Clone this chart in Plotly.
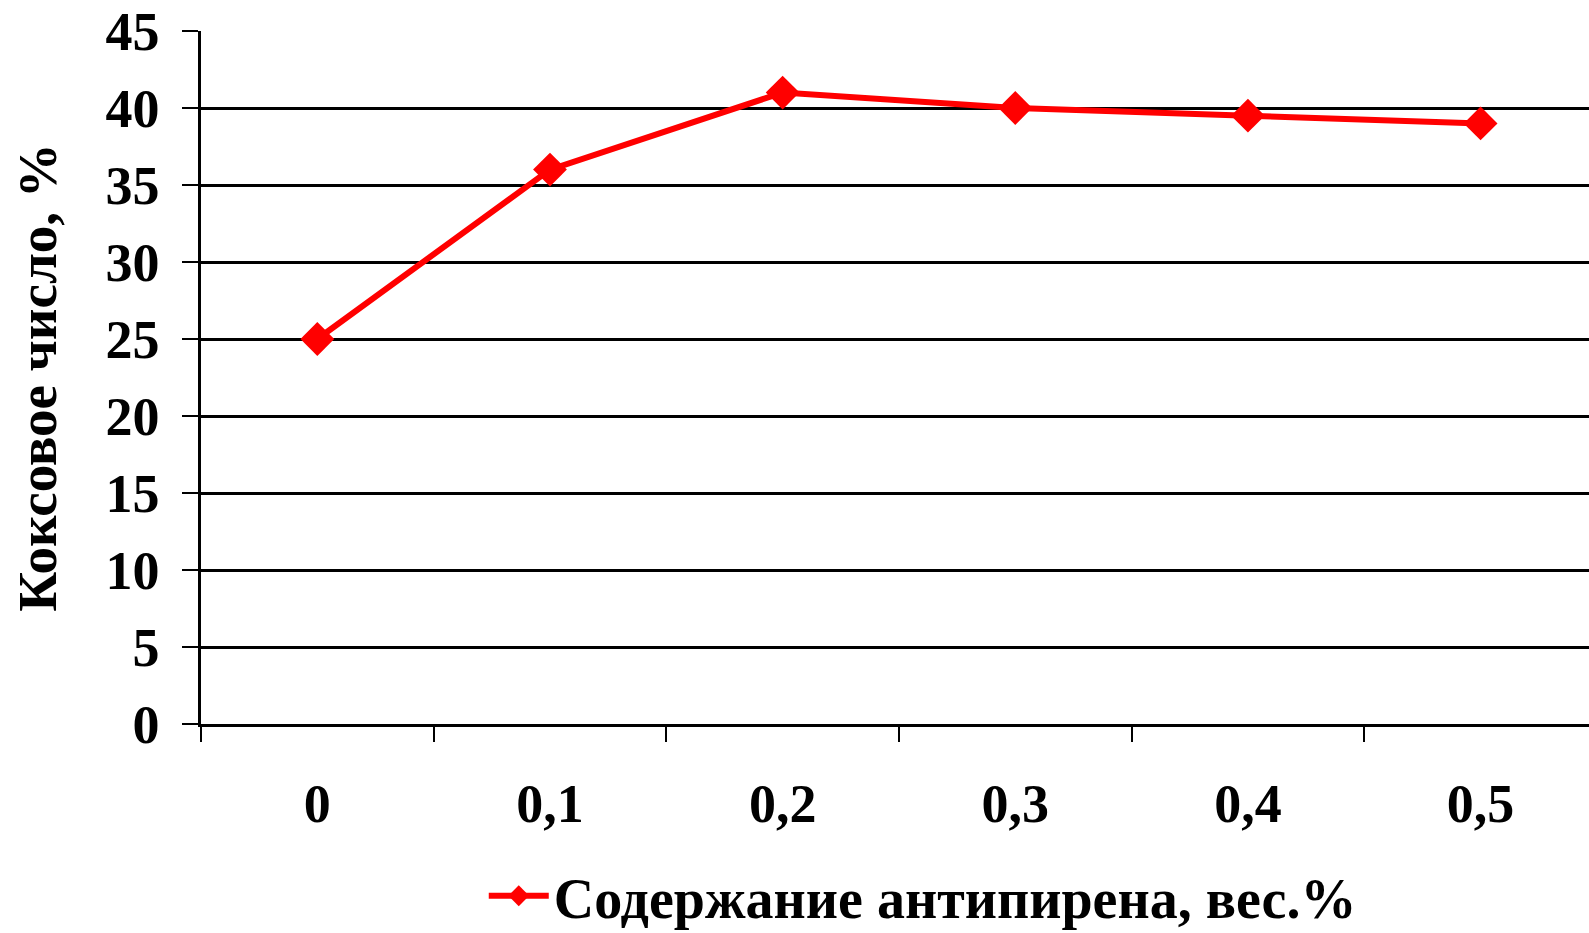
import plotly.graph_objects as go

categories = ["0", "0,1", "0,2", "0,3", "0,4", "0,5"]
coke_number = [25, 36, 41, 40, 39.5, 39]
series_name = "Содержание антипирена, вес.%"
y_title = "Коксовое число, %"
y_ticks = [0, 5, 10, 15, 20, 25, 30, 35, 40, 45]

FONT = "Liberation Serif, Times New Roman, serif"

fig = go.Figure()
fig.add_trace(go.Scatter(
    x=categories, y=coke_number, mode="lines+markers", name=series_name,
    line=dict(color="#ff0000", width=6),
    marker=dict(symbol="diamond", size=26, color="#ff0000"),
    cliponaxis=False,
))

fig.update_layout(
    width=1589, height=933,
    margin=dict(l=201, r=0, t=31, b=209, autoexpand=False),
    paper_bgcolor="white", plot_bgcolor="white",
    font=dict(family=FONT, size=54, color="black", weight="bold"),
    showlegend=True,
    legend=dict(orientation="h", x=0.52, xanchor="center", y=-0.248, yanchor="middle",
                font=dict(family=FONT, size=56, color="black", weight="bold"),
                itemwidth=60, tracegroupgap=0),
)

fig.update_xaxes(
    type="category", categoryorder="array", categoryarray=categories,
    range=[-0.5, 5.466], tickson="boundaries",
    showgrid=False, showline=True, linecolor="black", linewidth=2.5,
    ticks="outside", ticklen=15, tickwidth=2, tickcolor="black",
    ticklabelstandoff=30,
    tickfont=dict(family=FONT, size=54, color="black", weight="bold"),
    automargin=False, fixedrange=True,
)

fig.update_yaxes(
    range=[0, 45], tickmode="array", tickvals=y_ticks,
    showgrid=True, gridcolor="black", gridwidth=2.5,
    showline=True, linecolor="black", linewidth=2.5,
    ticks="outside", ticklen=16, tickwidth=2, tickcolor="black",
    ticklabelstandoff=12, zeroline=False,
    tickfont=dict(family=FONT, size=54, color="black", weight="bold"),
    title=dict(text=y_title, font=dict(family=FONT, size=55, color="black", weight="bold"), standoff=32),
    automargin=False, fixedrange=True,
)

fig.write_html("out.html", config={"displayModeBar": False})
